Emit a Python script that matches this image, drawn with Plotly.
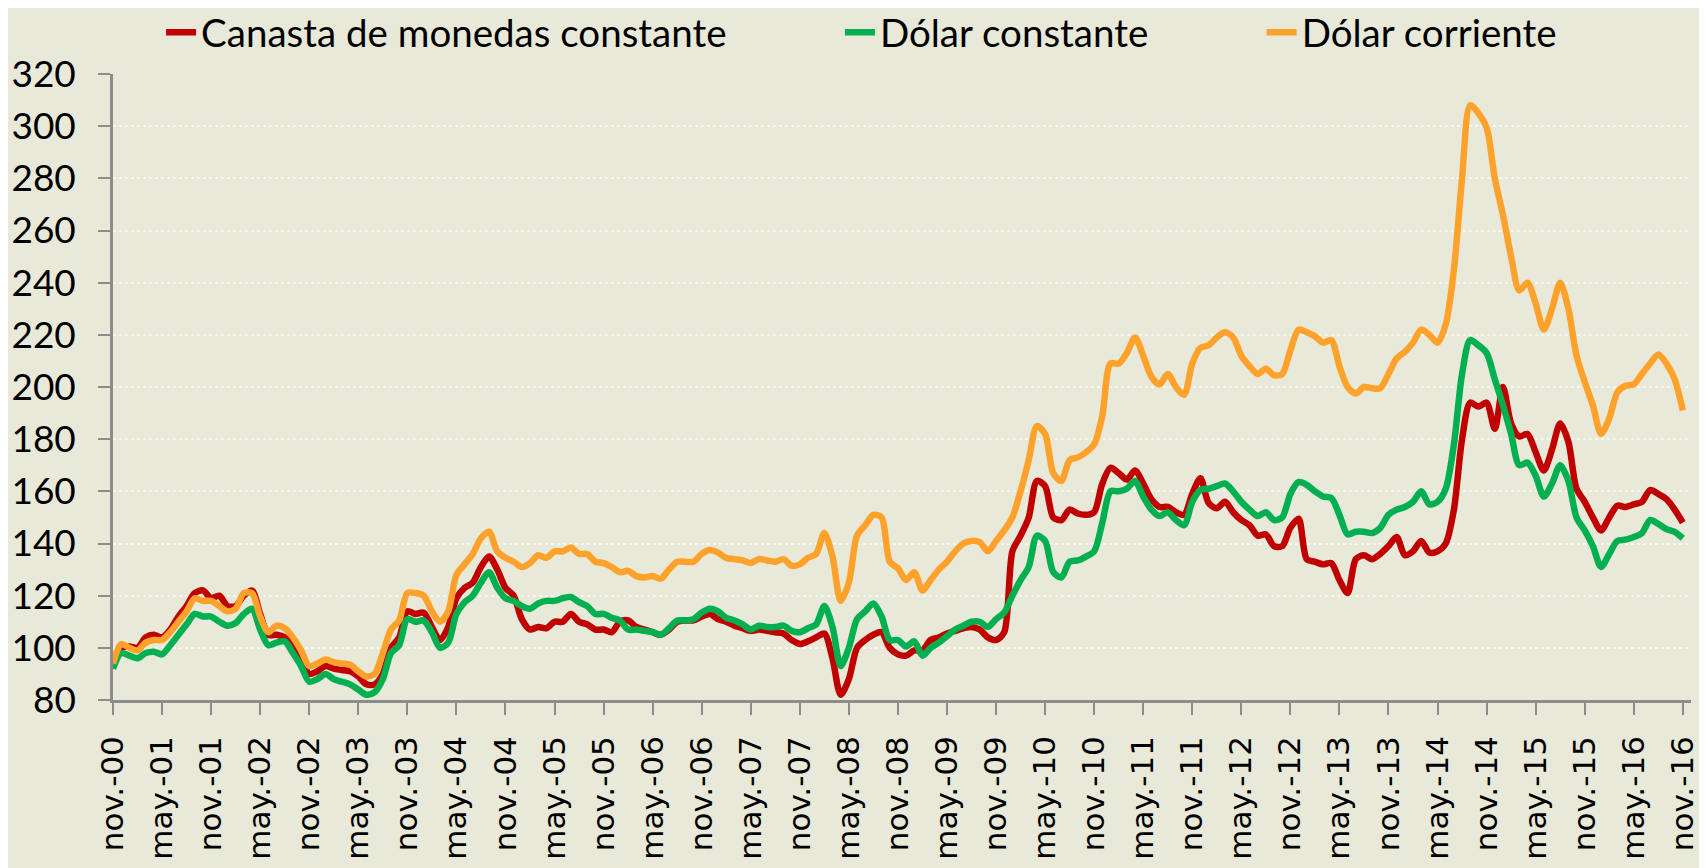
import plotly.graph_objects as go

tick_labels = ["nov.-00", "may.-01", "nov.-01", "may.-02", "nov.-02", "may.-03", "nov.-03",
               "may.-04", "nov.-04", "may.-05", "nov.-05", "may.-06", "nov.-06", "may.-07",
               "nov.-07", "may.-08", "nov.-08", "may.-09", "nov.-09", "may.-10", "nov.-10",
               "may.-11", "nov.-11", "may.-12", "nov.-12", "may.-13", "nov.-13", "may.-14",
               "nov.-14", "may.-15", "nov.-15", "may.-16", "nov.-16"]

canasta = [94, 100, 100.5, 100, 104, 105, 104, 107, 112, 116,
           121, 122, 119, 120, 116, 116, 120, 122, 113, 105,
           105, 104, 101, 96, 90, 91, 93, 92, 91.5, 91,
           89, 86, 86, 90, 100, 104, 114, 113, 113.5, 108,
           103, 108, 119, 123, 125, 131, 135, 130, 123, 120,
           111, 107, 108, 107.5, 110, 110, 113, 110, 109, 107,
           107, 106, 110, 110.5, 108, 107, 106, 105, 107, 110,
           110.5, 110.5, 112, 113, 111, 110, 108.5, 107.5, 106.5, 107,
           106.5, 106, 105.5, 103, 101.5, 102.5, 104, 105.5, 96, 82,
           88, 100, 103, 105, 106, 100, 97.5, 97, 99, 99,
           103, 104, 105.5, 106.5, 107.5, 108, 107, 104, 103, 106,
           137, 143, 150, 164, 162, 150, 149, 153, 151.5, 151,
           152, 163, 169, 167, 164.5, 168, 163, 157, 154, 154,
           152, 151, 159, 165, 155.5, 153.5, 156, 152, 149, 147,
           143, 143.5, 139, 139, 146, 149.5, 134, 133, 132, 132.5,
           126, 121, 134, 135.5, 134, 136, 139, 142.5, 135.5, 137,
           141, 136.5, 137, 140, 153, 180, 194, 192.5, 194, 184,
           200, 186, 181, 182, 175, 168, 176, 186, 179, 161,
           156, 150, 145, 150, 154.5, 154, 155, 156, 160.5, 159,
           157, 153, 148]

dolar_constante = [92, 98, 97, 96, 98, 98.5, 97.5, 101, 105, 109,
                   113, 112, 112, 110, 108.5, 109.5, 113, 115, 107, 101,
                   102, 102.5, 98, 93, 87, 88, 90, 88, 87, 86,
                   84, 82, 83, 88, 98, 101, 111, 110, 110.5, 106,
                   100, 102, 113, 117.5, 120, 125, 129, 123, 119, 118,
                   116, 115, 117, 118, 118, 119, 119.5, 117.5, 116, 113,
                   113, 111.5, 110.5, 107, 107, 106.5, 106, 105, 107.5, 110.5,
                   110.5, 111, 113.5, 115, 114, 111.5, 110.5, 109, 107, 108.5,
                   108, 108, 108.5, 106.5, 106, 107.5, 109, 116, 108, 93,
                   100, 111, 114, 117, 112, 103, 103, 100.5, 102.5, 97,
                   100, 102, 104.5, 107, 108.5, 110, 110, 108, 111, 113.5,
                   120, 126, 131, 143, 141, 129, 127, 133, 133.5, 135,
                   137, 148, 160, 160, 161, 164, 158, 153, 150.5, 152,
                   149, 147, 156, 160.5, 161, 162, 163, 160, 156, 153,
                   150.5, 152, 149, 150, 159, 163.5, 162.5, 160, 158, 157.5,
                   151, 143.5, 144.5, 144.5, 144, 146, 151, 153, 154, 156,
                   160, 155, 156, 161, 178, 205, 218, 216, 213, 203,
                   193, 182, 170, 171, 166, 158, 163, 170, 164, 150,
                   145, 139, 131, 136, 141, 141.5, 142.5, 144, 149, 147.5,
                   145.5, 144.5, 142]

dolar_corriente = [94, 101.5, 100, 99, 102, 103, 103, 106, 110, 114,
                   119, 118, 118, 116, 114, 115, 121, 121, 112, 106,
                   108.5, 107.5, 104, 99, 93, 94, 95.5, 94.5, 94, 93.5,
                   91, 89, 90, 98, 107, 110.5, 121, 121, 120, 114,
                   110, 114, 128, 132, 136, 142, 144.5, 137, 134.5, 133,
                   131, 132.5, 135.5, 134.5, 137, 137, 138.5, 136, 136, 133,
                   132.5, 131, 129, 129.5, 127.5, 127, 127.5, 126.5, 130, 133,
                   133, 133, 136, 137.5, 136.5, 134.5, 134, 133.5, 132.5, 134,
                   133.5, 133, 134, 131.5, 132, 134.5, 136, 144, 135, 118,
                   125, 143, 147, 151, 150, 133, 130.5, 126, 129, 122,
                   126, 130, 133, 137, 140, 141, 140.5, 137, 141, 145,
                   150, 160, 172, 185, 182, 167, 164, 172, 173, 175,
                   178, 189, 209, 209, 213, 219, 212, 204, 201, 205,
                   200, 197, 209, 215, 216, 219, 221, 219, 212, 208,
                   205, 207, 204.5, 205, 214, 222, 221, 219.5, 217, 218,
                   208, 200, 197.5, 200, 199.5, 199.5, 205, 211, 213.5, 217,
                   222, 220, 217, 224, 245, 280, 308, 305, 299.5, 280,
                   266, 250, 237, 240, 232, 222, 230, 240, 230, 212,
                   202, 193, 182, 188, 198, 200.5, 201, 205, 209, 212.5,
                   209, 203, 191]

months = list(range(len(canasta)))
tick_positions = list(range(0, len(canasta), 6))

series = [
    ("Canasta de monedas constante", canasta, "#C00000"),
    ("Dólar constante", dolar_constante, "#00B050"),
    ("Dólar corriente", dolar_corriente, "#FFA22B"),
]

fig = go.Figure()
pads = ["&nbsp;" * 11, "&nbsp;" * 11, ""]
for (name, vals, color), pad in zip(series, pads):
    fig.add_trace(go.Scatter(
        x=months, y=vals, mode="lines", name=name + pad,
        line=dict(color=color, width=6.5, shape="spline", smoothing=0.8),
    ))

bg = "#E8E9D8"
fig.update_layout(
    width=1699, height=860,
    paper_bgcolor=bg, plot_bgcolor=bg,
    margin=dict(l=105, r=16, t=66, b=168, autoexpand=False),
    font=dict(family="Lato, Carlito, sans-serif", color="black"),
    showlegend=True,
    legend=dict(orientation="h", xref="container", x=0.5024, xanchor="center",
                yref="paper", y=1.066, yanchor="middle",
                font=dict(size=38.5, family="Lato"), bgcolor="rgba(0,0,0,0)",
                itemwidth=30, tracegroupgap=0),
    xaxis=dict(
        range=[0, 193], tickmode="array", tickvals=tick_positions, ticktext=tick_labels,
        tickangle=-90, tickfont=dict(size=31, family="DejaVu Sans"),
        ticklabelstandoff=9, ticklabeloverflow="allow",
        showgrid=False, zeroline=False, automargin=False,
        showline=True, linecolor="#8C8C8C", linewidth=2.5,
        ticks="outside", ticklen=12, tickwidth=2, tickcolor="#8C8C8C",
    ),
    yaxis=dict(
        range=[80, 320], dtick=20, tick0=80,
        tickfont=dict(size=37, family="Lato"), ticklabelstandoff=15,
        showgrid=True, gridcolor="#F7F7F2", griddash="dot", gridwidth=1.5,
        zeroline=False, automargin=False,
        showline=True, linecolor="#8C8C8C", linewidth=2.5,
        ticks="outside", ticklen=12, tickwidth=2, tickcolor="#8C8C8C",
    ),
)

fig.write_html("out.html")
